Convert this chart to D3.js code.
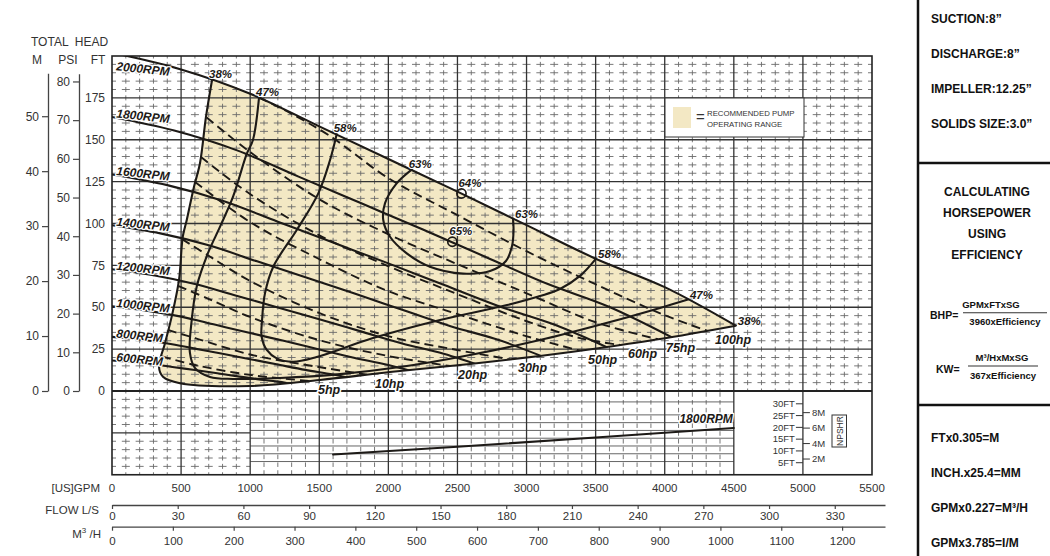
<!DOCTYPE html>
<html>
<head>
<meta charset="utf-8">
<script src="https://cdn.jsdelivr.net/npm/d3@7"></script>
<style>
  html, body { margin: 0; padding: 0; background: #fff; }
  svg { display: block; font-family: "Liberation Sans", Arial, sans-serif; }
</style>
</head>
<body>
<script>
// ---------- data: [GPM, FT] ----------
const rpmLabels = ["2000RPM", "1800RPM", "1600RPM", "1400RPM", "1200RPM", "1000RPM", "800RPM", "600RPM"];
const rpmCurves = [
  [[0,202],[500,192],[1000,177.5],[1500,158],[2000,138.5],[2500,119],[3000,99],[3500,79],[4000,62],[4514,39]],
  [[0,163.6],[450,155.5],[900,143.8],[1350,128],[1800,112.2],[2250,96.4],[2700,80.2],[3150,64],[3600,50.2],[4063,31.6]],
  [[0,129.3],[400,122.9],[800,113.6],[1200,101.1],[1600,88.6],[2000,76.2],[2400,63.4],[2800,50.6],[3200,39.7],[3611,25]],
  [[0,99],[350,94.1],[700,87],[1050,77.4],[1400,67.9],[1750,58.3],[2100,48.5],[2450,38.7],[2800,30.4],[3160,19.1]],
  [[0,72.7],[300,69.1],[600,63.9],[900,56.9],[1200,49.9],[1500,42.8],[1800,35.6],[2100,28.4],[2400,22.3],[2708,14]],
  [[0,50.5],[250,48],[500,44.4],[750,39.5],[1000,34.6],[1250,29.8],[1500,24.8],[1750,19.8],[2000,15.5],[2257,9.8]],
  [[0,32.3],[200,30.7],[400,28.4],[600,25.3],[800,22.2],[1000,19],[1200,15.8],[1400,12.6],[1600,9.9],[1806,6.2]],
  [[0,18.2],[150,17.3],[300,16],[450,14.2],[600,12.5],[750,10.7],[900,8.9],[1050,7.1],[1200,5.6],[1354,3.5]]
];

// efficiency curves
const eff38 = [[724,185.7],[680,163.6],[637,136.1],[593,121.8],[541,102.1],[512,92.1],[485,66.3],[432,44.4],
  [384,28.7],[340,14.5],[369,8.5],[492,4.6],[999,3.0],[1505,6.6],[2012,11.3],[2591,16.1],[3097,20.9],
  [3532,25.7],[3966,31.0],[4514,39.0]];
const eff47 = [[1064,175.2],[1020,149.9],[975,141.5],[876,116],[782,98.1],[695,82.4],[613,62.3],[577,42.4],
  [564,22.7],[601,13.7],[709,8.4],[876,7.2],[1216,7.8],[1650,10.1],[2084,14.3],[2591,21.5],[3097,30.4],
  [3604,41.2],[3966,49.6],[4168,54.6]];
const eff58 = [[1626,153.3],[1578,137.9],[1493,118.0],[1337,96.1],[1167,74.2],[1107,58.3],[1086,42.4],
  [1083,32.4],[1120,24.5],[1192,19.5],[1310,17.5],[1481,20.3],[1889,31.6],[2374,42.4],[2859,51.3],
  [3097,56.7],[3242,60.9],[3387,68.7],[3503,79.0]];
const eff63 = [[2169,132.2],[2060,124.0],[1976,112.2],[1963,102.1],[2012,92.1],[2133,82.2],[2301,74.2],
  [2540,70.1],[2736,71.6],[2851,77.6],[2895,86.6],[2906,96.1],[2902,102.8]];
const effCurves = [eff38, eff47, eff58, eff63];
const effNames = ["38%", "47%", "58%", "63%"];
const bepPoints = [[2529,117.9],[2463,89.1]];
const bepNames = ["64%", "65%"];

// horsepower lines
const hpLabels = ["5hp", "10hp", "20hp", "30hp", "50hp", "60hp", "75hp", "100hp"];
const hpCurves = [
  [[362,20.6],[601,15.5],[999,9.6],[1433,6.0]],
  [[405,36.4],[601,31.6],[999,21.8],[1498,14.3],[1845,9.8]],
  [[478,62.7],[702,54.9],[999,44.2],[1498,30.4],[1997,20.9],[2446,14.9]],
  [[507,90.7],[702,80.6],[999,65.7],[1498,46.6],[1997,32.8],[2497,24.5],[2880,18.9]],
  [[601,124.8],[999,100.9],[1498,78.8],[1997,59.7],[2497,46.0],[2996,32.8],[3387,24.1]],
  [[644,139.7],[999,117.6],[1498,93.1],[1997,74.6],[2497,57.9],[2996,41.8],[3387,31.6],[3676,27.5]],
  [[685,163.3],[999,142.7],[1498,114.6],[1997,93.7],[2497,75.8],[2996,58.5],[3495,41.2],[3951,30.9]],
  [[1064,175.2],[1288,166.0],[1578,152.2],[1997,127.2],[2497,105.1],[2996,83.6],[3495,63.9],[3995,45.4],[4306,36.0]]
];

// NPSHR 1800RPM, [GPM, FT]
const npshr1800 = [[1600,8.5],[2500,11.8],[3500,15.7],[4500,19.75]];
const npshRows = [5.5, 8.8, 12.1, 15.4, 18.7, 22.0, 25.3, 30.8];

// tick labels
const gpmTicks = [0,500,1000,1500,2000,2500,3000,3500,4000,4500,5000,5500];
const lsTicks = [0,30,60,90,120,150,180,210,240,270,300,330];
const m3hTicks = [0,100,200,300,400,500,600,700,800,900,1000,1100,1200];
const ftTicks = [0,25,50,75,100,125,150,175];
const psiTicks = [0,10,20,30,40,50,60,70,80];
const mTicks = [0,10,20,30,40,50];
const npshFtTicks = [5,10,15,20,25,30];
const npshMTicks = [2,4,6,8];

// side panel text
const specText = ["SUCTION:8\u201D", "DISCHARGE:8\u201D", "IMPELLER:12.25\u201D", "SOLIDS SIZE:3.0\u201D"];
const calcText = ["CALCULATING", "HORSEPOWER", "USING", "EFFICIENCY"];
const convText = ["FTx0.305=M", "INCH.x25.4=MM", "GPMx0.227=M\u00B3/H", "GPMx3.785=I/M"];

// ---------- setup ----------
const W = 1050, H = 556;
const ink = "#1d1a17", shade = "#f3e8c4";
const svg = d3.select("body").append("svg").attr("width", W).attr("height", H);
svg.append("rect").attr("width", W).attr("height", H).attr("fill", "#fff");

const x = d3.scaleLinear().domain([0, 5500]).range([112, 872]);
const y = d3.scaleLinear().domain([-50, 200]).range([474.75, 56]);
const yN = d3.scaleLinear().domain([0, 30]).range([474.5, 403.8]);   // NPSHR feet

const curve = d3.line().x(d => x(d[0])).y(d => y(d[1])).curve(d3.curveCatmullRom.alpha(0.5));
const straight = d3.line().x(d => x(d[0])).y(d => y(d[1]));

function halo(sel, w) {
  return sel.attr("stroke", "#fff").attr("stroke-width", w)
    .attr("stroke-linejoin", "round").attr("paint-order", "stroke");
}

// shaded operating range: 38% curve then 2000RPM back to the start
const top2000 = rpmCurves[0].filter(d => d[0] > eff38[0][0] && d[0] < eff38[eff38.length - 1][0]).reverse();
svg.append("path")
  .attr("d", curve(eff38) + straight(top2000).replace(/^M/, "L") + "Z")
  .attr("fill", shade);

// ---------- grid ----------
const grid = svg.append("g");
const minorV = d3.range(100, 5500, 100).filter(v => v % 500);
const minorStroke = "#6a6a6a";

grid.selectAll(".mvu").data(minorV).join("line")
  .attr("x1", d => x(d)).attr("x2", d => x(d)).attr("y1", y(0)).attr("y2", y(200))
  .attr("stroke", minorStroke).attr("stroke-width", 0.9)
  .attr("stroke-dasharray", "5,3.375").attr("stroke-dashoffset", 2.5);
grid.selectAll(".mvl").data(minorV.filter(v => v < 1000)).join("line")
  .attr("x1", d => x(d)).attr("x2", d => x(d)).attr("y1", y(0)).attr("y2", y(-50))
  .attr("stroke", minorStroke).attr("stroke-width", 0.9)
  .attr("stroke-dasharray", "5,3.375").attr("stroke-dashoffset", 2.5);
grid.selectAll(".mvm").data(minorV.filter(v => v > 1000 && v < 4500)).join("line")
  .attr("x1", d => x(d)).attr("x2", d => x(d)).attr("y1", y(-50)).attr("y2", y(0))
  .attr("stroke", "#666").attr("stroke-width", 0.9)
  .attr("stroke-dasharray", "4.5,3.3");

grid.selectAll(".mhu").data(d3.range(5, 200, 5).filter(v => v % 25)).join("line")
  .attr("x1", x(0)).attr("x2", x(5500)).attr("y1", d => y(d)).attr("y2", d => y(d))
  .attr("stroke", minorStroke).attr("stroke-width", 0.9)
  .attr("stroke-dasharray", "8,5.818").attr("stroke-dashoffset", 4);
grid.selectAll(".mhl").data(d3.range(-45, 0, 5).filter(v => v % 25)).join("line")
  .attr("x1", x(0)).attr("x2", x(1000)).attr("y1", d => y(d)).attr("y2", d => y(d))
  .attr("stroke", minorStroke).attr("stroke-width", 0.9)
  .attr("stroke-dasharray", "8,5.818").attr("stroke-dashoffset", 4);
grid.selectAll(".rows").data(npshRows).join("line")
  .attr("x1", x(1000)).attr("x2", x(4500)).attr("y1", d => yN(d)).attr("y2", d => yN(d))
  .attr("stroke", "#555").attr("stroke-width", 0.9);

// major lines
grid.selectAll(".Mv").data(d3.range(500, 5500, 500)).join("line")
  .attr("x1", d => x(d)).attr("x2", d => x(d)).attr("y1", y(200)).attr("y2", y(-50))
  .attr("stroke", "#333").attr("stroke-width", 1.3);
grid.selectAll(".Mh").data(ftTicks.slice(1)).join("line")
  .attr("x1", x(0)).attr("x2", x(5500)).attr("y1", d => y(d)).attr("y2", d => y(d))
  .attr("stroke", "#333").attr("stroke-width", 1.3);
grid.append("line").attr("x1", x(0)).attr("x2", x(1000)).attr("y1", y(-25)).attr("y2", y(-25))
  .attr("stroke", "#333").attr("stroke-width", 1.3);
grid.append("line").attr("x1", x(0)).attr("x2", x(5500)).attr("y1", y(0)).attr("y2", y(0))
  .attr("stroke", "#222").attr("stroke-width", 2);
grid.append("rect")
  .attr("x", x(0)).attr("y", y(200)).attr("width", x(5500) - x(0)).attr("height", y(-50) - y(200))
  .attr("fill", "none").attr("stroke", "#222").attr("stroke-width", 1.6);

// legend
const lg = svg.append("g").attr("transform", "translate(665,98)");
lg.append("rect").attr("width", 139).attr("height", 39).attr("fill", "#fff").attr("stroke", "#333").attr("stroke-width", 1);
lg.append("rect").attr("x", 8).attr("y", 9).attr("width", 18).attr("height", 21).attr("fill", shade);
lg.append("text").attr("x", 31).attr("y", 24).attr("font-size", 15).attr("fill", "#333").text("=");
lg.append("text").attr("x", 42).attr("y", 18).attr("font-size", 7.8).attr("fill", "#333").text("RECOMMENDED PUMP");
lg.append("text").attr("x", 42).attr("y", 29).attr("font-size", 7.8).attr("fill", "#333").text("OPERATING RANGE");

// ---------- curves ----------
const lowStart = d3.minIndex(eff38, d => d[0]);
const lower = eff38.slice(lowStart).reverse();
const clipPts = [[0, 200], [5500, 200], [5500, lower[0][1]], ...lower, [0, lower[lower.length - 1][1]]];
svg.append("clipPath").attr("id", "range").append("path").attr("d", straight(clipPts) + "Z");

const curves = svg.append("g").attr("fill", "none").attr("stroke", ink).attr("stroke-linecap", "round");
curves.append("g").attr("clip-path", "url(#range)")
  .selectAll("path").data(rpmCurves).join("path")
  .attr("d", curve).attr("stroke-width", 2.1);
curves.append("g").attr("clip-path", "url(#range)")
  .selectAll("path").data(hpCurves).join("path")
  .attr("d", curve).attr("stroke-width", 1.9).attr("stroke-linecap", "butt")
  .attr("stroke-dasharray", "9,5");
curves.selectAll(".eff").data(effCurves).join("path")
  .attr("d", curve).attr("stroke-width", 2.1);
curves.selectAll("circle").data(bepPoints).join("circle")
  .attr("cx", d => x(d[0])).attr("cy", d => y(d[1])).attr("r", 4.6).attr("stroke-width", 1.7);

// NPSHR line
curves.append("path")
  .attr("d", d3.line().x(d => x(d[0])).y(d => yN(d[1]))(npshr1800))
  .attr("stroke-width", 2.1);

// ---------- labels on the chart ----------
const labels = svg.append("g").attr("fill", ink);

labels.selectAll(".rpm").data(rpmCurves).join("text")
  .attr("transform", d => `translate(${x(0) + 4},${Math.max(y(d[0][1]) + 0.5, y(191.5))}) rotate(6)`)
  .attr("font-size", 12).attr("font-weight", "bold").attr("font-style", "italic")
  .text((d, i) => rpmLabels[i])
  .call(halo, 2.5);

effCurves.forEach((c, i) => {
  const a = c[0], b = c[c.length - 1];
  labels.append("text").attr("x", x(a[0]) - 3).attr("y", y(a[1]) - 2)
    .attr("font-size", 11.5).attr("font-weight", "bold").attr("font-style", "italic")
    .text(effNames[i]).call(halo, 2);
  labels.append("text").attr("x", x(b[0]) + 2).attr("y", y(b[1]) - 1)
    .attr("font-size", 11.5).attr("font-weight", "bold").attr("font-style", "italic")
    .text(effNames[i]).call(halo, 2);
});
labels.selectAll(".bep").data(bepPoints).join("text")
  .attr("x", d => x(d[0]) - 3).attr("y", d => y(d[1]) - 6.5)
  .attr("font-size", 11.5).attr("font-weight", "bold").attr("font-style", "italic")
  .text((d, i) => bepNames[i]).call(halo, 2);

labels.selectAll(".hp").data(hpCurves).join("text")
  .attr("x", d => x(d[d.length - 1][0]) + 8).attr("y", d => y(d[d.length - 1][1]) + 13)
  .attr("font-size", 12.5).attr("font-weight", "bold").attr("font-style", "italic")
  .text((d, i) => hpLabels[i]).call(halo, 3);

labels.append("text")
  .attr("x", x(npshr1800[npshr1800.length - 1][0]) - 1)
  .attr("y", yN(npshr1800[npshr1800.length - 1][1]) - 5)
  .attr("text-anchor", "end").attr("font-size", 12).attr("font-weight", "bold").attr("font-style", "italic")
  .text("1800RPM").call(halo, 2.5);

// ---------- NPSHR axis on the 5000 GPM line ----------
const npsh = svg.append("g").attr("font-size", 9.5).attr("fill", "#333");
npsh.selectAll(".ft").data(npshFtTicks).join("line")
  .attr("x1", x(5000) - 7).attr("x2", x(5000)).attr("y1", d => yN(d)).attr("y2", d => yN(d))
  .attr("stroke", "#333").attr("stroke-width", 1);
npsh.selectAll(".ftl").data(npshFtTicks).join("text")
  .attr("x", x(5000) - 8).attr("y", d => yN(d)).attr("dy", "0.35em").attr("text-anchor", "end")
  .text(d => d + "FT");
npsh.selectAll(".m").data(npshMTicks).join("line")
  .attr("x1", x(5000)).attr("x2", x(5000) + 7).attr("y1", d => yN(d * 3.281)).attr("y2", d => yN(d * 3.281))
  .attr("stroke", "#333").attr("stroke-width", 1);
npsh.selectAll(".ml").data(npshMTicks).join("text")
  .attr("x", x(5000) + 9).attr("y", d => yN(d * 3.281)).attr("dy", "0.35em")
  .text(d => d + "M");
npsh.append("rect").attr("x", 832).attr("y", 415).attr("width", 14.5).attr("height", 32)
  .attr("fill", "none").attr("stroke", "#333").attr("stroke-width", 1);
npsh.append("text").attr("transform", "translate(842.5,431) rotate(-90)")
  .attr("text-anchor", "middle").attr("font-size", 8.5).text("NPSHR");

// ---------- left axes ----------
const axisText = "#333";
const mScale = d3.scaleLinear().domain([0, 57.8]).range([y(0), y(57.8 * 3.281)]);
const psiScale = d3.scaleLinear().domain([0, 82]).range([y(0), y(82 * 2.31)]);

function styleAxis(g, size) {
  g.select(".domain").attr("stroke", "#444").attr("stroke-width", 1.3);
  g.selectAll(".tick line").attr("stroke", "#444").attr("stroke-width", 1.2);
  g.selectAll(".tick text").attr("fill", axisText).attr("font-size", size)
    .attr("font-family", '"Liberation Sans", Arial, sans-serif');
}
svg.append("g").attr("transform", "translate(48,0)")
  .call(d3.axisLeft(mScale).tickValues(mTicks).tickSize(6).tickSizeOuter(0).tickPadding(3))
  .call(styleAxis, 12);
svg.append("g").attr("transform", "translate(79,0)")
  .call(d3.axisLeft(psiScale).tickValues(psiTicks).tickSize(6).tickSizeOuter(0).tickPadding(3))
  .call(styleAxis, 12);
svg.append("g").selectAll("text").data(ftTicks).join("text")
  .attr("x", 105).attr("y", d => y(d)).attr("dy", "0.35em").attr("text-anchor", "end")
  .attr("font-size", 12).attr("fill", axisText).text(d => d);

svg.append("text").attr("x", 31).attr("y", 46).attr("font-size", 12).attr("fill", axisText)
  .attr("xml:space", "preserve").text("TOTAL  HEAD");
[["M", 37], ["PSI", 68], ["FT", 98]].forEach(([t, px]) =>
  svg.append("text").attr("x", px).attr("y", 64).attr("text-anchor", "middle")
    .attr("font-size", 12).attr("fill", axisText).text(t));

// ---------- bottom axes ----------
svg.append("g").selectAll("text").data(gpmTicks).join("text")
  .attr("x", d => x(d)).attr("y", 492).attr("text-anchor", "middle")
  .attr("font-size", 11.5).attr("fill", axisText).text(d => d);
svg.append("text").attr("x", 100).attr("y", 492).attr("text-anchor", "end")
  .attr("font-size", 11.5).attr("fill", axisText).text("[US]GPM");

const axisEnd = 885;
const xLS = d3.scaleLinear().domain([0, x.invert(axisEnd) / 15.85]).range([x(0), axisEnd]);
const xM3 = d3.scaleLinear().domain([0, x.invert(axisEnd) / 4.403]).range([x(0), axisEnd]);

svg.append("g").attr("transform", "translate(0,505)")
  .call(d3.axisBottom(xLS).tickValues(lsTicks).tickFormat(d3.format("d"))
    .tickSize(4).tickSizeOuter(0).tickPadding(3))
  .call(styleAxis, 11.5);
svg.append("g").attr("transform", "translate(0,526.7)")
  .call(d3.axisBottom(xM3).tickValues(m3hTicks).tickFormat(d3.format("d"))
    .tickSize(4).tickSizeOuter(0).tickPadding(6))
  .call(styleAxis, 11.5);
svg.append("text").attr("x", 99).attr("y", 513.5).attr("text-anchor", "end")
  .attr("font-size", 11.5).attr("fill", axisText).text("FLOW L/S");
const m3 = svg.append("text").attr("x", 101).attr("y", 538).attr("text-anchor", "end")
  .attr("font-size", 11.5).attr("fill", axisText);
m3.append("tspan").text("M");
m3.append("tspan").attr("font-size", 8).attr("dy", -5).text("3");
m3.append("tspan").attr("dy", 5).attr("xml:space", "preserve").text(" /H");

// ---------- side panel ----------
const panel = svg.append("g").attr("fill", "#111").attr("font-weight", "bold");
panel.append("line").attr("x1", 918).attr("x2", 918).attr("y1", 0).attr("y2", H)
  .attr("stroke", "#111").attr("stroke-width", 2.5);
[163, 405].forEach(py => panel.append("line").attr("x1", 918).attr("x2", W).attr("y1", py).attr("y2", py)
  .attr("stroke", "#111").attr("stroke-width", 2.5));

panel.selectAll(".spec").data(specText).join("text")
  .attr("x", 931).attr("y", (d, i) => 22.5 + i * 35).attr("font-size", 12).text(d => d);
panel.selectAll(".calc").data(calcText).join("text")
  .attr("x", 987).attr("y", (d, i) => 195.5 + i * 21.3).attr("text-anchor", "middle")
  .attr("font-size", 12).text(d => d);
panel.selectAll(".conv").data(convText).join("text")
  .attr("x", 931).attr("y", (d, i) => 441.5 + i * 35).attr("font-size", 12).text(d => d);

// formulas
panel.append("text").attr("x", 930).attr("y", 318.5).attr("font-size", 10.5).text("BHP=");
panel.append("text").attr("x", 991).attr("y", 307.5).attr("text-anchor", "middle").attr("font-size", 9.5).text("GPMxFTxSG");
panel.append("line").attr("x1", 963).attr("x2", 1047).attr("y1", 312.7).attr("y2", 312.7)
  .attr("stroke", "#333").attr("stroke-width", 1.1);
panel.append("text").attr("x", 1005).attr("y", 325).attr("text-anchor", "middle").attr("font-size", 9.5).text("3960xEfficiency");

panel.append("text").attr("x", 936).attr("y", 372.5).attr("font-size", 10.5).text("KW=");
panel.append("text").attr("x", 1002).attr("y", 360.5).attr("text-anchor", "middle").attr("font-size", 9.5).text("M\u00B3/HxMxSG");
panel.append("line").attr("x1", 968).attr("x2", 1038).attr("y1", 366).attr("y2", 366)
  .attr("stroke", "#333").attr("stroke-width", 1.1);
panel.append("text").attr("x", 1003).attr("y", 378.5).attr("text-anchor", "middle").attr("font-size", 9.5).text("367xEfficiency");
</script>
</body>
</html>
